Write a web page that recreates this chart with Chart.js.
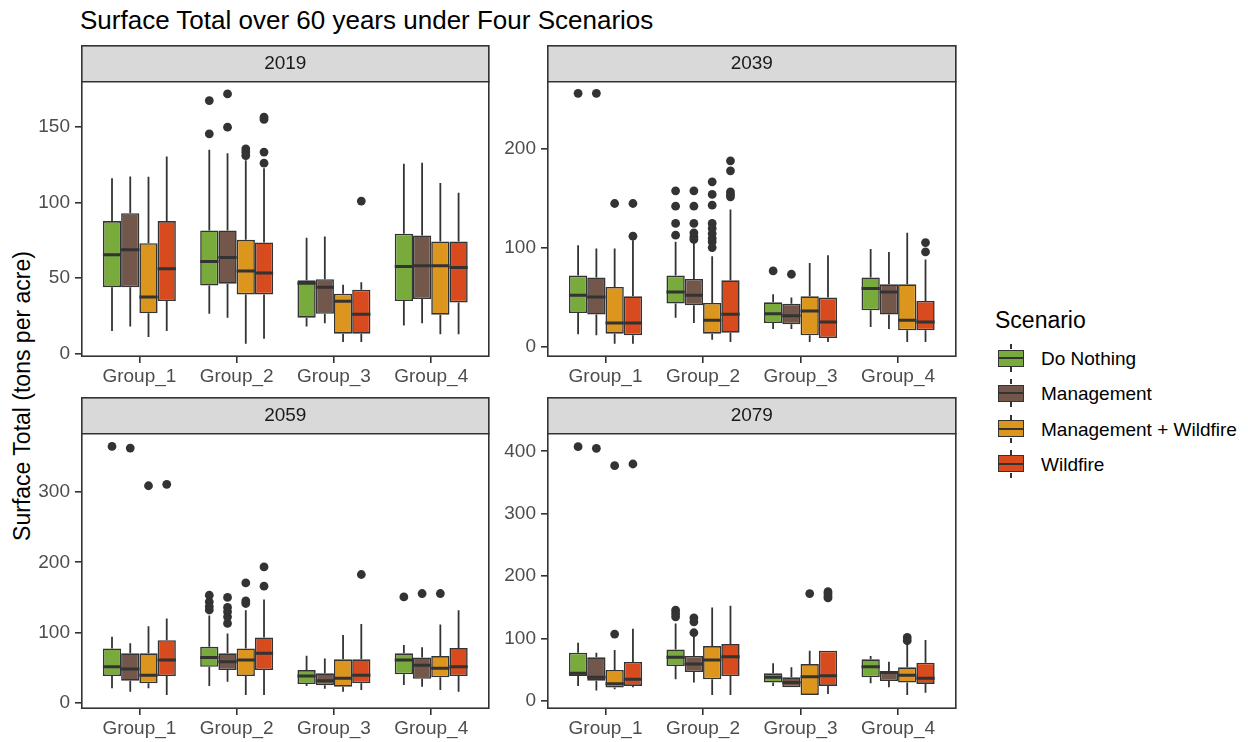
<!DOCTYPE html>
<html>
<head>
<meta charset="utf-8">
<script src="https://cdn.jsdelivr.net/npm/chart.js@4.4.1/dist/chart.umd.min.js"></script>
<style>
body { margin: 0; background: #fff; width: 1248px; height: 742px; position: relative; overflow: hidden; font-family: "Liberation Sans", Arial, sans-serif; }
canvas { position: absolute; }
#title { position: absolute; left: 80px; top: 5px; font-size: 26px; line-height: 30px; color: #000; white-space: nowrap; }
#ytitle { position: absolute; left: 22px; top: 396px; font-size: 23px; line-height: 28px; color: #000; white-space: nowrap; transform: translate(-50%, -50%) rotate(-90deg); }
#legend { position: absolute; left: 995px; top: 306px; width: 250px; height: 180px; }
#legend .ltitle { position: absolute; left: 0; top: 0; font-size: 23px; line-height: 28px; color: #000; }
#legend .row { position: absolute; left: 0; height: 35px; width: 250px; }
#legend .key { position: absolute; left: 3px; top: 8.5px; width: 24px; height: 15px; border: 1.5px solid #333; }
#legend .key .med { position: absolute; left: 0; right: 0; top: 6.5px; height: 2px; background: #333; }
#legend .key .wt, #legend .key .wb { position: absolute; left: 11.25px; width: 1.5px; height: 5px; background: #333; }
#legend .key .wt { top: -6.5px; }
#legend .key .wb { bottom: -6.5px; }
#legend .lab { position: absolute; left: 46px; top: 0; font-size: 19px; line-height: 35px; color: #000; white-space: nowrap; }
</style>
</head>
<body>
<div id="title">Surface Total over 60 years under Four Scenarios</div>
<div id="ytitle">Surface Total (tons per acre)</div>
<div id="legend"><div class="ltitle">Scenario</div></div>
<canvas id="p2019" width="473" height="352" style="left:21px;top:45px"></canvas>
<canvas id="p2039" width="474" height="352" style="left:487px;top:45px"></canvas>
<canvas id="p2059" width="473" height="352" style="left:21px;top:397px"></canvas>
<canvas id="p2079" width="474" height="352" style="left:487px;top:397px"></canvas>
<script>
const groups = ['Group_1', 'Group_2', 'Group_3', 'Group_4']
const scenarios = ['Do Nothing', 'Management', 'Management + Wildfire', 'Wildfire']
const colors = ['#78aa3c', '#73574b', '#dc961e', '#d74b1e']
const years = ['2019', '2039', '2059', '2079']
const yMin = [-2.2, -10, -9, -13]
const yMax = [179.8, 267, 383, 428]
const yStep = [50, 100, 100, 100]

// each box: [lower whisker, q1, median, q3, upper whisker]; rows = scenarios, cols = groups
const box2019 = [
    [[15, 44, 65.4, 87.7, 116], [26.4, 45.1, 61, 81.5, 134.8], [18, 23.8, 46.5, 48.5, 76.7], [18.7, 34.8, 57.7, 79.3, 125.6]],
    [[18, 44, 68.7, 92.9, 117.2], [23.8, 46.3, 63.6, 81.5, 132.6], [20.2, 26.4, 44, 49.3, 77.5], [20.2, 36.1, 58.2, 78.2, 126.2]],
    [[11, 26.8, 37.4, 73.1, 117], [6.6, 39.2, 54.6, 75.3, 128], [7.7, 13.2, 34.6, 39.7, 45.6], [12.8, 25.8, 58.2, 74.2, 112.8]],
    [[15, 34.8, 56.2, 87.7, 130.4], [9.9, 39.2, 53.3, 73.6, 122.7], [7.7, 13.2, 26, 42.3, 47.3], [12.8, 33.9, 57, 74.2, 106.4]]
]
const out2019 = [
    [[], [167.4, 145.4], [], []],
    [[], [171.8, 149.8], [], []],
    [[], [135.5, 133.3, 131], [], []],
    [[], [156.4, 154.9, 133.3, 126], [100.9], []]
]

const box2039 = [
    [[12.8, 34.3, 52.1, 72, 102.5], [29.6, 43.8, 55.4, 72, 106], [18.1, 24.2, 33.6, 45, 53.1], [20.2, 37, 58.9, 70, 98.8]],
    [[11.8, 32.7, 50.4, 70, 99.2], [24.2, 42, 52.1, 68.6, 106], [18.1, 22.9, 31.6, 43.7, 49.8], [18.1, 32.7, 55.4, 63.2, 95.8]],
    [[3.4, 13.5, 24.2, 60.5, 99.2], [7.4, 13.5, 26.9, 44.4, 91.4], [5, 11.8, 36.3, 51.1, 84.7], [5, 16.8, 26.9, 63.2, 115]],
    [[3.4, 11.8, 24.2, 51.1, 107.5], [5, 14.5, 33, 67.2, 138.5], [5, 9.1, 25.2, 49.8, 92.4], [5, 16.8, 25.2, 46.4, 88.1]]
]
const out2039 = [
    [[255.4], [157.3, 141.8, 124.4, 112.6], [76.6], []],
    [[255.4], [157.3, 141.8, 124.4, 115, 110.9, 108.3], [73.3], []],
    [[144.5], [166.3, 153.6, 142.8, 124.4, 119.4, 114.3, 109.3, 105.9, 100.2], [], []],
    [[144.5, 111.6], [187.5, 177.4, 156.3, 153.9, 151.2], [], [105.2, 95.8]]
]

const box2059 = [
    [[20.5, 38, 51.2, 77.3, 93.8], [23.7, 51.2, 64.5, 79.6, 124.2], [23.7, 26.6, 38, 46.5, 66.8], [25.2, 40.4, 60.7, 70.3, 82]],
    [[15.6, 31.3, 47.9, 70.3, 84.5], [29.8, 46.5, 58.3, 70.3, 98.6], [19.9, 24.7, 31.3, 41.8, 63.1], [22.8, 34.1, 53.2, 64.5, 78.8]],
    [[20.5, 27.6, 38.9, 70.3, 109], [11, 38, 60.7, 77.3, 131.8], [15.6, 22.8, 34.7, 61.7, 96.3], [18, 36.1, 48.9, 66.4, 111.5]],
    [[11, 38, 60.7, 89.1, 120], [11, 46.5, 70.3, 93, 147], [18, 27.6, 38.9, 61.7, 111.9], [15.6, 38, 51.2, 77.8, 131.8]]
]
const out2059 = [
    [[365], [153, 143.6, 137, 132], [], [150.7]],
    [[362.6], [149.9, 135.6, 129.4, 122.3, 112.9], [], [155.5]],
    [[309], [170.6, 145, 141.3], [], [155.5]],
    [[311], [193.4, 165.9], [182.6], []]
]

const box2079 = [
    [[24, 40, 44.2, 77.2, 93.2], [34.6, 55.9, 69.8, 82.5, 124.1], [24, 29.3, 37.8, 44.2, 60.2], [28.2, 37.8, 54.8, 66.6, 71.9]],
    [[16.5, 32.4, 37.8, 69.8, 77.2], [29.3, 46.3, 59.1, 71.9, 102.8], [21.9, 21.9, 29.3, 37.8, 53.8], [21.8, 31.9, 45.3, 48, 62.8]],
    [[18.7, 21.3, 27.5, 49.5, 81.5], [9.6, 34.6, 65.5, 87.9, 149.6], [9.6, 9.6, 38.8, 59, 80.4], [9.6, 29.3, 41, 53.8, 92.1]],
    [[22, 24, 34.6, 62.3, 115.5], [9.6, 39.9, 70.8, 91.1, 152.3], [11.2, 24, 40.4, 80.4, 80.4], [13.2, 27.2, 36.2, 61.2, 97.4]]
]
const out2079 = [
    [[407.3], [145.4, 140, 134.7], [], []],
    [[404.7], [133.1, 126.7, 109.2], [], []],
    [[377, 107], [], [172], [101.7, 96.4]],
    [[379.6], [], [175, 172, 168, 165], []]
]

const boxes = [box2019, box2039, box2059, box2079]
const outliers = [out2019, out2039, out2059, out2079]

const dodge = 0.75 / scenarios.length
const xPos = (gi, s) => gi + 1 + (s - (scenarios.length - 1) / 2) * dodge
const font = 'Liberation Sans, Arial, sans-serif'

// grey strip behind the facet title and the dark panel frame
const panelFrame = {
    id: 'panelFrame',
    beforeDraw(chart) {
        const { ctx, chartArea: a } = chart
        const t = chart.titleBlock
        ctx.save()
        ctx.fillStyle = '#d9d9d9'
        ctx.fillRect(a.left, t.top, a.right - a.left, t.bottom - t.top)
        ctx.restore()
    },
    afterDraw(chart) {
        const { ctx, chartArea: a } = chart
        const t = chart.titleBlock
        ctx.save()
        ctx.strokeStyle = '#333333'
        ctx.lineWidth = 1.6
        ctx.strokeRect(a.left + 0.8, t.top + 0.8, a.right - a.left - 1.6, a.bottom - t.top - 1.6)
        ctx.beginPath()
        ctx.moveTo(a.left, a.top)
        ctx.lineTo(a.right, a.top)
        ctx.stroke()
        ctx.restore()
    }
}

function makePanel(k) {
    const box = boxes[k]
    const out = outliers[k]
    const datasets = []
    scenarios.forEach((name, s) => {
        datasets.push({
            type: 'bar',
            label: name,
            order: 2,
            data: groups.map((g, gi) => ({ x: gi + 1, y: [box[s][gi][1], box[s][gi][3]] })),
            backgroundColor: colors[s],
            borderColor: '#333333',
            borderWidth: 1.6,
            borderSkipped: false,
            categoryPercentage: 0.75,
            barPercentage: 1
        })
    })
    scenarios.forEach((name, s) => {
        const whisk = []
        const med = []
        const pts = []
        groups.forEach((g, gi) => {
            const b = box[s][gi]
            const x = xPos(gi, s)
            whisk.push({ x, y: b[0] }, { x, y: b[1] }, { x, y: null }, { x, y: b[3] }, { x, y: b[4] }, { x, y: null })
            med.push({ x: x - dodge / 2, y: b[2] }, { x: x + dodge / 2, y: b[2] }, { x, y: null })
            out[s][gi].forEach(v => pts.push({ x, y: v }))
        })
        datasets.push({ type: 'line', order: 3, data: whisk, borderColor: '#333333', borderWidth: 1.8, pointRadius: 0, spanGaps: false })
        datasets.push({ type: 'line', order: 1, data: med, borderColor: '#333333', borderWidth: 3, pointRadius: 0, spanGaps: false })
        datasets.push({ type: 'scatter', order: 0, data: pts, backgroundColor: '#333333', borderColor: '#333333', borderWidth: 0, pointRadius: 4.4 })
    })

    return new Chart(document.getElementById('p' + years[k]), {
        type: 'bar',
        data: { datasets },
        options: {
            responsive: false,
            animation: false,
            devicePixelRatio: 1,
            layout: { padding: 0 },
            plugins: {
                legend: { display: false },
                tooltip: { enabled: false },
                title: {
                    display: true,
                    text: years[k],
                    fullSize: false,
                    color: '#1a1a1a',
                    font: { family: font, size: 19, weight: 'normal', lineHeight: 1.2 },
                    padding: { top: 7, bottom: 7 }
                }
            },
            scales: {
                x: {
                    type: 'linear',
                    min: 0.4,
                    max: 4.6,
                    offset: false,
                    afterBuildTicks: s => { s.ticks = groups.map((g, i) => ({ value: i + 1 })) },
                    afterFit: s => { s.height = 40 },
                    ticks: { callback: v => groups[v - 1], color: '#4d4d4d', font: { family: font, size: 19 }, padding: 2, maxRotation: 0, autoSkip: false },
                    grid: { display: true, offset: false, drawOnChartArea: false, drawTicks: true, tickLength: 6, color: '#333333', lineWidth: 1.6 },
                    border: { display: false }
                },
                y: {
                    type: 'linear',
                    min: yMin[k],
                    max: yMax[k],
                    afterBuildTicks: s => {
                        const t = []
                        for (let v = 0; v <= yMax[k]; v += yStep[k]) t.push({ value: v })
                        s.ticks = t
                    },
                    afterFit: s => { s.width = 60 },
                    ticks: { callback: v => String(v), color: '#4d4d4d', font: { family: font, size: 19 }, padding: 5 },
                    grid: { display: true, offset: false, drawOnChartArea: false, drawTicks: true, tickLength: 6, color: '#333333', lineWidth: 1.6 },
                    border: { display: false }
                }
            }
        },
        plugins: [panelFrame]
    })
}

years.forEach((y, k) => makePanel(k))

const legend = document.getElementById('legend')
scenarios.forEach((name, s) => {
    const row = document.createElement('div')
    row.className = 'row'
    row.style.top = (35 + 35.3 * s) + 'px'
    row.innerHTML = '<span class="key" style="background:' + colors[s] + '"><span class="wt"></span><span class="med"></span><span class="wb"></span></span><span class="lab">' + name + '</span>'
    legend.appendChild(row)
})
</script>
</body>
</html>
